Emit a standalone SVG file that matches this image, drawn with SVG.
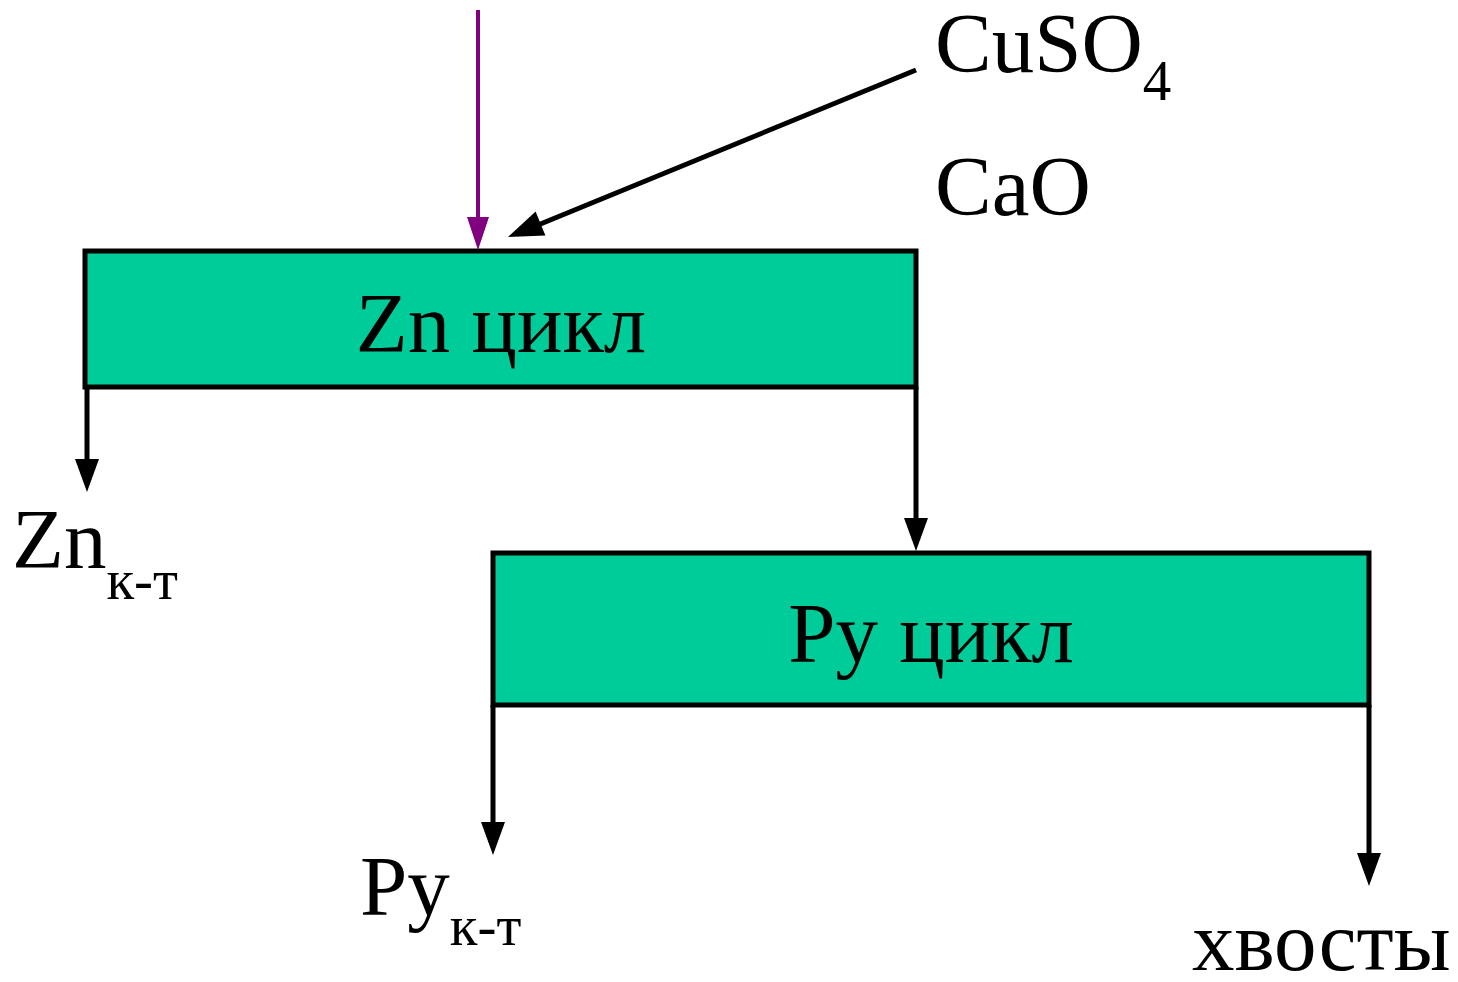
<svg xmlns="http://www.w3.org/2000/svg" width="1458" height="982" viewBox="0 0 1458 982">
<style>
.box{fill:#00CC99;stroke:#000;stroke-width:5}
.ln{stroke:#000;stroke-width:5;fill:none}
.ah{fill:#000}
.t{font-family:"Liberation Serif","Times New Roman",serif;fill:#000;font-size:85px}
.s{font-size:57px}
</style>
<g id="connectors">
<line x1="478" y1="10" x2="478" y2="220" stroke="#800080" stroke-width="4"/>
<path d="M467,217 L489,217 L478,250 Z" fill="#800080"/>
<line class="ln" x1="916" y1="70" x2="538" y2="225"/>
<path class="ah" d="M545.4,235.5 L535.6,211.5 L508,237 Z"/>
<line class="ln" x1="87" y1="387" x2="87" y2="462"/>
<line class="ln" x1="916" y1="387" x2="916" y2="521"/>
<line class="ln" x1="493" y1="705" x2="493" y2="825"/>
<line class="ln" x1="1369" y1="705" x2="1369" y2="856"/>
<path class="ah" d="M75,459 L99,459 L87,492 Z"/>
<path class="ah" d="M904,518 L928,518 L916,551 Z"/>
<path class="ah" d="M481,822 L505,822 L493,855 Z"/>
<path class="ah" d="M1357,853 L1381,853 L1369,886 Z"/>
</g>
<g id="zn-cycle">
<rect class="box" x="85" y="251" width="831" height="136"/>
<text class="t" x="501" y="352" text-anchor="middle">Zn цикл</text>
</g>
<g id="py-cycle">
<rect class="box" x="493" y="553" width="876" height="152"/>
<text class="t" x="931" y="662" text-anchor="middle">Py цикл</text>
</g>
<g id="reagents">
<text class="t" x="935" y="72">CuSO<tspan class="s" dy="28">4</tspan></text>
<text class="t" x="935" y="215">CaO</text>
</g>
<g id="zn-conc">
<text class="t" x="12" y="568">Zn<tspan class="s" dy="31">к-т</tspan></text>
</g>
<g id="py-conc">
<text class="t" x="360" y="915">Py<tspan class="s" dy="30">к-т</tspan></text>
</g>
<g id="tails">
<text class="t" x="1192" y="970">хвосты</text>
</g>
</svg>
